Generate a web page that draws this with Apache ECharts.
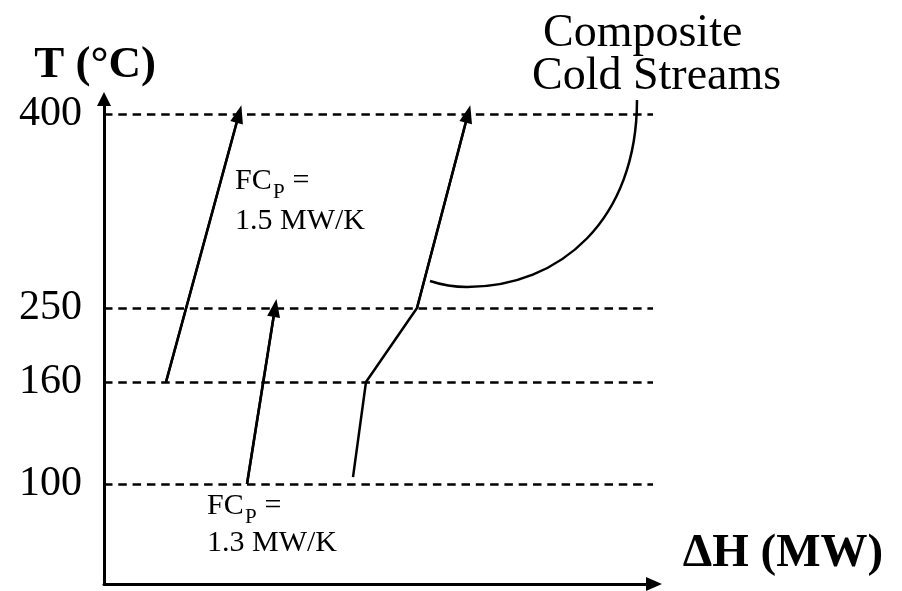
<!DOCTYPE html>
<html><head><meta charset="utf-8">
<script src="https://cdn.jsdelivr.net/npm/echarts@6/dist/echarts.min.js"></script>
<style>html,body{margin:0;padding:0;background:#fff}#c{width:902px;height:591px}</style>
</head><body><div id="c"></div>
<script>
// Temperature levels marked on the T axis (°C)
const tempLevels = [100, 160, 250, 400];
// The sketch is not to scale: height of each level on the drawn T axis (schematic units)
const levelHeights = [100, 202, 276, 470];

// Cold stream with FCp = 1.3 MW/K : ΔH (schematic) and T (°C)
const stream13H = [143, 171];
const stream13T = [100, 250];
// Cold stream with FCp = 1.5 MW/K
const stream15H = [62, 135];
const stream15T = [160, 400];
// Composite cold stream
const compositeH = [249, 262, 313, 364];
const compositeT = [104, 160, 250, 400];

// place a temperature on the schematic (piecewise) T axis
function tPos(T) {
  let i = 0;
  while (i < tempLevels.length - 2 && T > tempLevels[i + 1]) i++;
  const t0 = tempLevels[i], t1 = tempLevels[i + 1];
  const h0 = levelHeights[i], h1 = levelHeights[i + 1];
  return h0 + (T - t0) * (h1 - h0) / (t1 - t0);
}
function pts(H, T) { return H.map((h, i) => [h, tPos(T[i])]); }

const FONT = '"Liberation Serif","Times New Roman",serif';
const black = '#000';

function streamSeries(name, H, T) {
  const p = pts(H, T);
  const n = p.length;
  return {
    name, type: 'line', data: p, symbol: 'none', silent: true,
    lineStyle: { color: black, width: 2.5 },
    markLine: {
      silent: true, animation: false,
      symbol: ['none', 'triangle'],
      label: { show: false },
      lineStyle: { color: black, width: 2.5, type: 'solid' },
      data: [[{ coord: p[n - 2], symbol: 'none' },
              { coord: p[n - 1], symbol: 'triangle', symbolSize: [13, 18] }]]
    }
  };
}

const dashEnd = 549;
const levelLines = {
  type: 'line', data: [], silent: true,
  markLine: {
    silent: true, animation: false, symbol: ['none', 'none'],
    label: { show: false },
    lineStyle: { color: black, width: 2.5, type: [8.5, 5.8] },
    data: levelHeights.map(h => [{ coord: [0, h] }, { coord: [dashEnd, h] }])
  }
};

const chart = echarts.init(document.getElementById('c'), null, { renderer: 'canvas' });
chart.setOption({
  animation: false,
  backgroundColor: '#fff',
  grid: { left: 104, right: 248, top: 99, bottom: 7, containLabel: false },
  xAxis: {
    type: 'value', min: 0, max: 550,
    axisLine: { show: true, lineStyle: { color: black, width: 3 }, symbol: ['none', 'triangle'], symbolSize: [14, 16] },
    axisTick: { show: false }, axisLabel: { show: false }, splitLine: { show: false }
  },
  yAxis: {
    type: 'value', min: 0, max: 485,
    axisLine: { show: true, lineStyle: { color: black, width: 3 }, symbol: ['none', 'triangle'], symbolSize: [14, 14] },
    axisTick: { show: false }, splitLine: { show: false },
    axisLabel: {
      show: true, customValues: levelHeights, margin: 22,
      color: black, fontFamily: FONT, fontSize: 42,
      formatter: v => String(tempLevels[levelHeights.indexOf(v)])
    }
  },
  series: [
    levelLines,
    streamSeries('FCp 1.3', stream13H, stream13T),
    streamSeries('FCp 1.5', stream15H, stream15T),
    streamSeries('Composite', compositeH, compositeT)
  ],
  graphic: [
    { type: 'text', x: 95, y: 65, style: { text: 'T (°C)', font: 'bold 45px ' + FONT, fill: black, align: 'center', verticalAlign: 'middle' } },
    { type: 'text', x: 783, y: 554, style: { text: 'ΔH (MW)', font: 'bold 47px ' + FONT, fill: black, align: 'center', verticalAlign: 'middle' } },
    { type: 'text', x: 543, y: 34, style: { text: 'Composite', font: '46px ' + FONT, fill: black, align: 'left', verticalAlign: 'middle' } },
    { type: 'text', x: 532, y: 77, style: { text: 'Cold Streams', font: '46px ' + FONT, fill: black, align: 'left', verticalAlign: 'middle' } },
    // FCp = 1.5 MW/K
    { type: 'text', x: 235, y: 181, style: { text: 'FC', font: '30px ' + FONT, fill: black, align: 'left', verticalAlign: 'middle' } },
    { type: 'text', x: 273, y: 192, style: { text: 'P', font: '21px ' + FONT, fill: black, align: 'left', verticalAlign: 'middle' } },
    { type: 'text', x: 285, y: 181, style: { text: ' =', font: '30px ' + FONT, fill: black, align: 'left', verticalAlign: 'middle' } },
    { type: 'text', x: 235, y: 221, style: { text: '1.5 MW/K', font: '30px ' + FONT, fill: black, align: 'left', verticalAlign: 'middle' } },
    // FCp = 1.3 MW/K
    { type: 'text', x: 207, y: 506, style: { text: 'FC', font: '30px ' + FONT, fill: black, align: 'left', verticalAlign: 'middle' } },
    { type: 'text', x: 245, y: 517, style: { text: 'P', font: '21px ' + FONT, fill: black, align: 'left', verticalAlign: 'middle' } },
    { type: 'text', x: 257, y: 506, style: { text: ' =', font: '30px ' + FONT, fill: black, align: 'left', verticalAlign: 'middle' } },
    { type: 'text', x: 207, y: 543, style: { text: '1.3 MW/K', font: '30px ' + FONT, fill: black, align: 'left', verticalAlign: 'middle' } },
    // callout from label to composite curve
    { type: 'bezierCurve', shape: { x1: 637, y1: 100, cpx1: 637, cpy1: 220, cpx2: 560, cpy2: 287, x2: 467, y2: 287 },
      style: { fill: 'none', stroke: black, lineWidth: 2.5 } },
    { type: 'bezierCurve', shape: { x1: 467, y1: 287, cpx1: 448, cpy1: 287, x2: 430, y2: 281 },
      style: { fill: 'none', stroke: black, lineWidth: 2.5 } }
  ]
});
</script></body></html>
